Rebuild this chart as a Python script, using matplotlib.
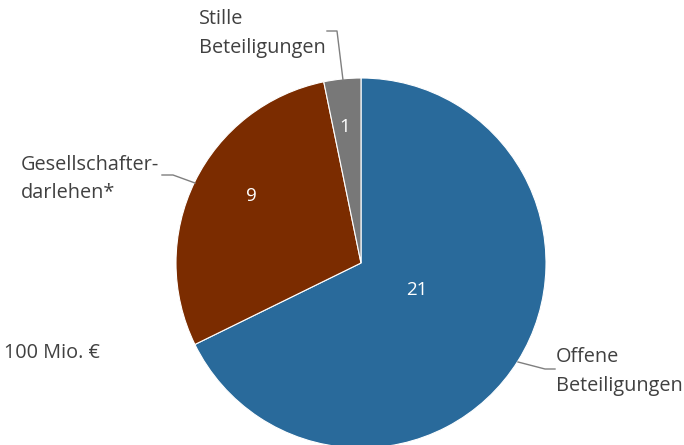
import matplotlib.pyplot as plt

# data
labels = ["Offene\nBeteiligungen", "Gesellschafter-\ndarlehen*", "Stille\nBeteiligungen"]
values = [21, 9, 1]
colors = ["#296A9B", "#7B2C00", "#787878"]
note = "100 Mio. €"

plt.rcParams['font.family'] = ['Open Sans', 'DejaVu Sans']
text_color = "#404040"
H = 445

fig = plt.figure(figsize=(6.84, 4.45), dpi=100)
ax = fig.add_axes([0, 0, 1, 1])

cx, cy, r = 361, H - 263, 185
wedges, _ = ax.pie(values, colors=colors, startangle=90, counterclock=False,
                   center=(cx, cy), radius=r, frame=True,
                   wedgeprops=dict(edgecolor="white", linewidth=0.8))
ax.set_xlim(0, 684)
ax.set_ylim(0, H)
ax.set_aspect('equal')
ax.axis('off')

# value labels inside slices (pixel positions)
value_pos = [(417, 290), (251, 196), (345, 127)]
for v, (x, y) in zip(values, value_pos):
    ax.text(x, H - y, str(v), color="white", fontsize=13.5, ha="center", va="center")

# category labels
label_pos = [(556, 372), (21, 179), (199, 34)]
for lab, (x, y) in zip(labels, label_pos):
    ax.text(x, H - y, lab, color=text_color, fontsize=14.3, ha="left", va="center",
            linespacing=1.6)

# leader lines
leaders = [
    [(518, 362), (545, 369), (555, 369)],
    [(162, 175), (173, 175), (195, 183)],
    [(327, 31), (337, 31), (343, 80)],
]
for pts in leaders:
    ax.plot([p[0] for p in pts], [H - p[1] for p in pts], color="#7F7F7F", lw=1)

ax.text(4, H - 353, note, color=text_color, fontsize=14.3, ha="left", va="center")

fig.savefig("out.png", dpi=100)
